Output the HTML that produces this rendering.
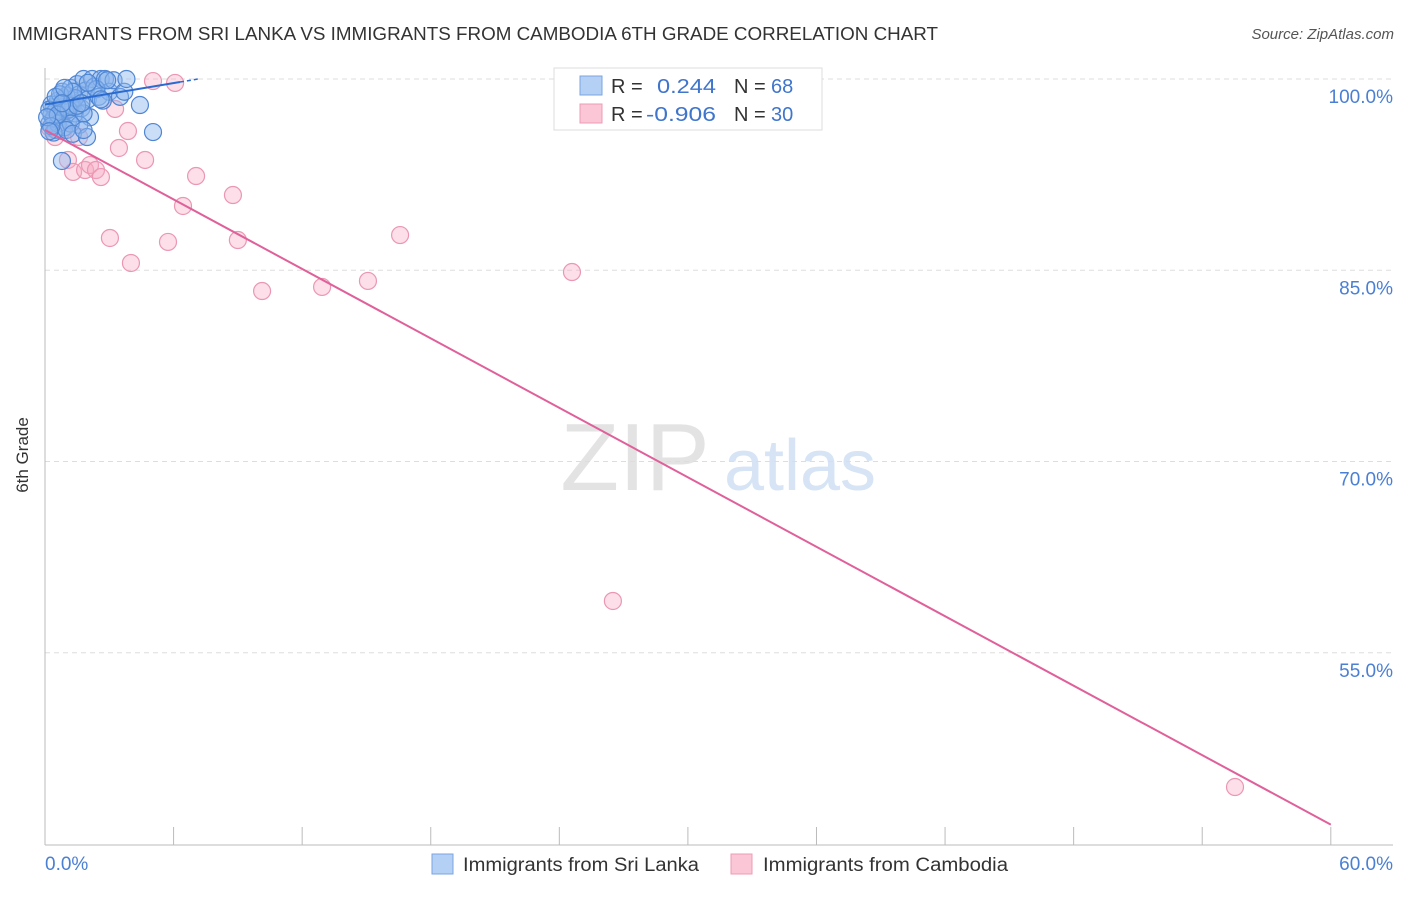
<!DOCTYPE html>
<html><head><meta charset="utf-8"><style>
body{margin:0;background:#fff;font-family:"Liberation Sans",sans-serif}
svg text{font-family:"Liberation Sans",sans-serif}
</style></head><body>
<svg id="c" width="1406" height="892" xmlns="http://www.w3.org/2000/svg">
<text x="12" y="40" font-size="18.5" fill="#333" textLength="926" lengthAdjust="spacingAndGlyphs">IMMIGRANTS FROM SRI LANKA VS IMMIGRANTS FROM CAMBODIA 6TH GRADE CORRELATION CHART</text>
<text x="1394" y="39" font-size="15" fill="#555" font-style="italic" text-anchor="end">Source: ZipAtlas.com</text>
<text x="28" y="455" font-size="17" fill="#333" text-anchor="middle" transform="rotate(-90 28 455)">6th Grade</text>
<g>
<text x="635" y="490" font-size="96" fill="#e3e3e3" font-family="Liberation Serif" text-anchor="middle">ZIP</text>
<text x="800" y="490" font-size="72" fill="#d6e4f5" text-anchor="middle">atlas</text>
</g>
<g id="grid"></g><g id="axes"></g><g id="marks"></g>
<g>
<rect x="554" y="68" width="268" height="62" fill="#fff" stroke="#ddd"/>
<rect x="580" y="76" width="22" height="19" fill="#b5d0f5" stroke="#7aa5e0"/>
<text x="611" y="93" font-size="20" fill="#333">R =</text>
<text x="657" y="93" font-size="20" fill="#3f75cc" textLength="59" lengthAdjust="spacingAndGlyphs">0.244</text>
<text x="734" y="93" font-size="20" fill="#333">N =</text>
<text x="771" y="93" font-size="20" fill="#3f75cc">68</text>
<rect x="580" y="104" width="22" height="19" fill="#fbc6d5" stroke="#ee9cb6"/>
<text x="611" y="121" font-size="20" fill="#333">R =</text>
<text x="646" y="121" font-size="20" fill="#3f75cc" textLength="70" lengthAdjust="spacingAndGlyphs">-0.906</text>
<text x="734" y="121" font-size="20" fill="#333">N =</text>
<text x="771" y="121" font-size="20" fill="#3f75cc">30</text>
</g>
<g>
<rect x="432" y="854" width="21" height="20" fill="#b5d0f5" stroke="#7aa5e0"/>
<text x="463" y="871" font-size="19" fill="#333" textLength="236" lengthAdjust="spacingAndGlyphs">Immigrants from Sri Lanka</text>
<rect x="731" y="854" width="21" height="20" fill="#fbc6d5" stroke="#ee9cb6"/>
<text x="763" y="871" font-size="19" fill="#333" textLength="245" lengthAdjust="spacingAndGlyphs">Immigrants from Cambodia</text>
</g>
</svg>
<script>
const yTicks=[100,85,70,55];
const yTickLabels=["100.0%","85.0%","70.0%","55.0%"];
const xTickLabels=["0.0%","60.0%"];
const blueX=[0.2,0.3,0.4,0.5,0.6,0.7,0.8,0.9,1.0,1.1,1.2,1.3,1.4,1.5,1.6,1.7,1.8,1.9,2.0,2.2,2.3,2.5,2.6,2.8,3.0,3.2,3.5,3.7,2.1,0.3,0.5,0.6,0.8,1.0,1.2,1.4,1.6,1.8,0.4,0.7,0.9,1.1,1.3,1.5,2.4,2.7,0.2,0.5,0.9,1.2,0.4,0.6,0.8,1.0,1.7,2.0,1.3,0.3,3.8,2.9,4.43,5.04,0.79,1.96,1.8,2.6,0.1,0.2];
const blueY=[96.5,97.2,97.8,96.0,98.3,97.0,99.0,98.5,97.5,96.8,99.3,98.0,97.3,99.6,98.8,97.7,100,99.1,98.4,100,99.4,98.6,100,100,99.0,99.9,98.6,99.0,97.0,98.0,97.5,96.5,97.8,98.7,97.9,98.5,96.4,97.3,96.9,98.8,96.2,97.6,99.0,97.9,99.2,98.3,97.6,98.6,99.3,96.5,95.8,97.2,98.1,96.0,98.1,99.7,95.7,96.3,100,99.9,97.96,95.84,93.57,95.45,96.0,98.4,97.0,95.9];
const pinkX=[5.04,6.07,3.27,3.87,3.45,4.67,1.07,1.31,1.87,2.1,2.38,2.61,7.05,6.44,8.77,3.03,5.74,9.0,4.01,10.13,12.93,15.07,16.57,24.59,26.5,55.53,0.47,1.59,0.79,0.23];
const pinkY=[99.84,99.69,97.65,95.92,94.59,93.65,93.65,92.71,92.86,93.25,92.86,92.31,92.39,90.04,90.9,87.53,87.22,87.37,85.57,83.37,83.69,84.16,87.76,84.86,59.06,44.47,95.45,95.45,95.92,96.16];
const blueTrend=[98.0,0.28]; // intercept, slope
const pinkTrend=[96.0,-0.908];
const X=v=>45+v*21.43, Y=v=>79+(100-v)*12.75;
const NS="http://www.w3.org/2000/svg";
function mk(parent,tag,attrs){const e=document.createElementNS(NS,tag);for(const k in attrs)e.setAttribute(k,attrs[k]);document.getElementById(parent).appendChild(e);return e;}
yTicks.forEach((t,i)=>{
 const g=mk('grid','line',{x1:45,x2:1393,y1:Y(t),y2:Y(t),stroke:'#ddd','stroke-dasharray':'5,4'});
 
 
 const l=mk('axes','text',{x:1393,y:Y(t)+24,'font-size':19,fill:'#4a7fd4','text-anchor':'end'});
 l.textContent=yTickLabels[i];
 
 
});
let a=mk('axes','line',{x1:45,x2:45,y1:68,y2:845,stroke:'#bbb'});


a=mk('axes','line',{x1:45,x2:1393,y1:845,y2:845,stroke:'#bbb'});


for(let i=1;i<=10;i++){const t=mk('axes','line',{x1:X(i*6),x2:X(i*6),y1:827,y2:845,stroke:'#bbb'});
 
 }
let xl=mk('axes','text',{x:45,y:870,'font-size':19,fill:'#4a7fd4'});xl.textContent=xTickLabels[0];


xl=mk('axes','text',{x:1393,y:870,'font-size':19,fill:'#4a7fd4','text-anchor':'end'});xl.textContent=xTickLabels[1];


pinkX.forEach((x,i)=>{const c=mk('marks','circle',{cx:X(x),cy:Y(pinkY[i]),r:8.5,fill:'rgba(246,170,195,0.38)',stroke:'#eb97b3','stroke-width':1.2});
 
 });
blueX.forEach((x,i)=>{const c=mk('marks','circle',{cx:X(x),cy:Y(blueY[i]),r:8.5,fill:'rgba(140,182,238,0.45)',stroke:'#4f86d4','stroke-width':1.2});
 
 });
let tl=mk('marks','line',{x1:X(0),y1:Y(blueTrend[0]),x2:X(6.3),y2:Y(blueTrend[0]+blueTrend[1]*6.3),stroke:'#2a6bd1','stroke-width':2});


tl=mk('marks','line',{x1:X(6.3),y1:Y(blueTrend[0]+blueTrend[1]*6.3),x2:X(7.2),y2:Y(blueTrend[0]+blueTrend[1]*7.2),stroke:'#2a6bd1','stroke-width':1.5,'stroke-dasharray':'4,3'});


tl=mk('marks','line',{x1:X(0),y1:Y(pinkTrend[0]),x2:X(60),y2:Y(pinkTrend[0]+pinkTrend[1]*60),stroke:'#e0609a','stroke-width':2});


</script>
</body></html>
